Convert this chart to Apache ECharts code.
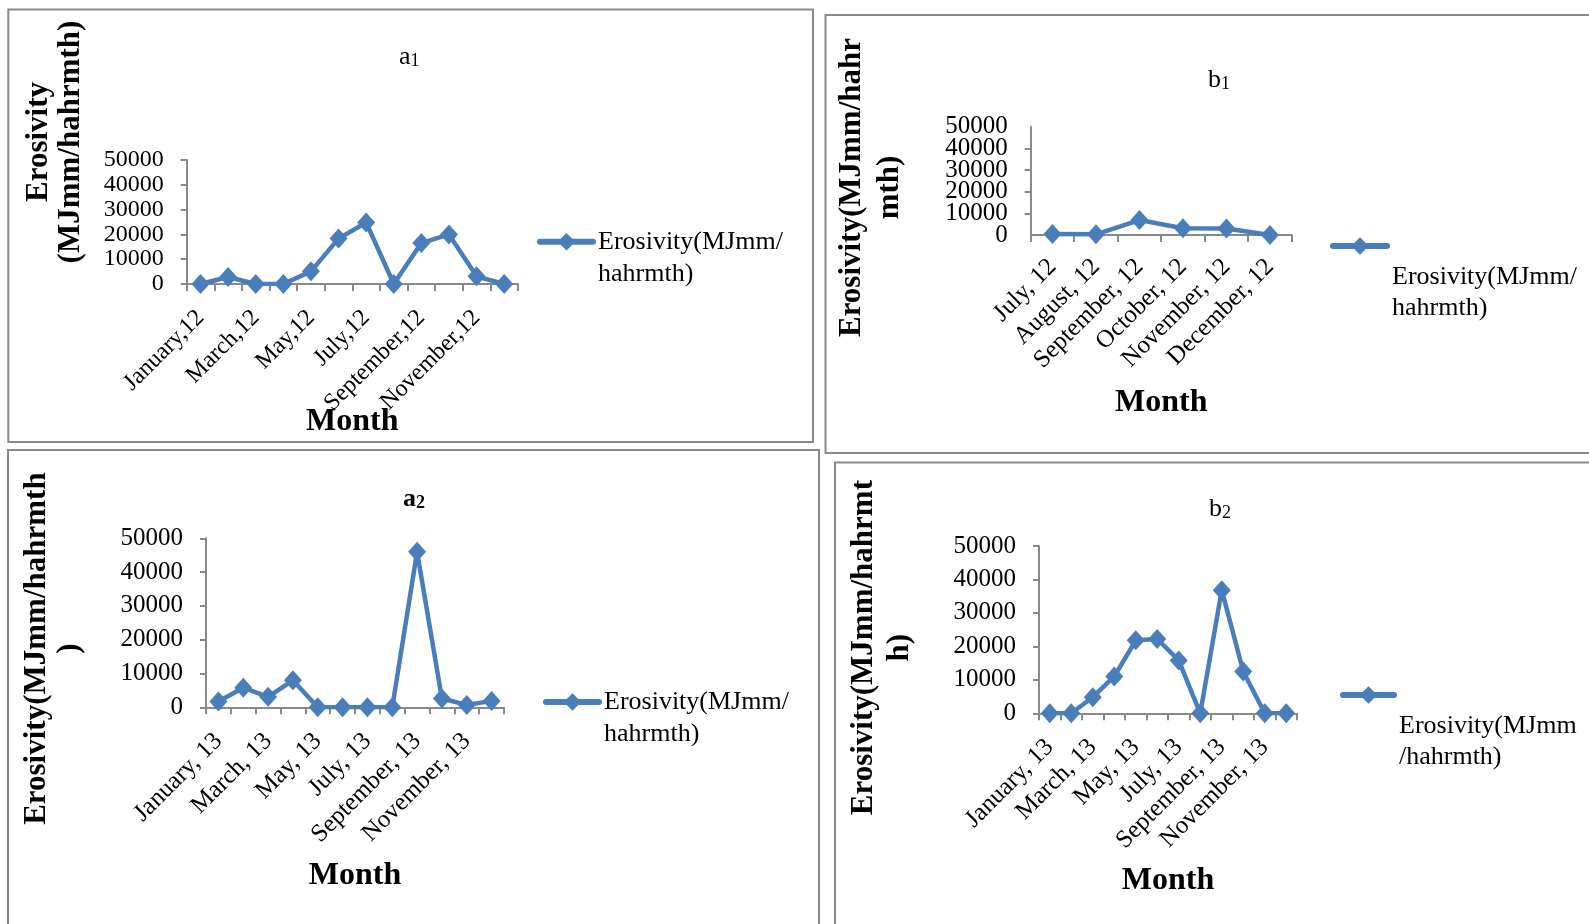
<!DOCTYPE html>
<html>
<head>
<meta charset="utf-8">
<script src="https://cdn.jsdelivr.net/npm/echarts@6/dist/echarts.min.js"></script>
<style>
html,body{margin:0;padding:0;background:#fff;}
#c{width:1589px;height:924px;}
</style>
</head>
<body>
<div id="c"></div>
<script>
// ---------- data ----------
const a1Categories = ['January,12','February,12','March,12','April,12','May,12','June,12','July,12','August,12','September,12','October,12','November,12','December,12'];
const a1Values = [0, 2800, 0, 0, 5100, 18300, 24800, 0, 16500, 20000, 3100, 0];

const b1Categories = ['July, 12','August, 12','September, 12','October, 12','November, 12','December, 12'];
const b1Values = [500, 300, 6900, 3100, 3000, 0];

const a2Categories = ['January, 13','February, 13','March, 13','April, 13','May, 13','June, 13','July, 13','August, 13','September, 13','October, 13','November, 13','December, 13'];
const a2Values = [1700, 5800, 3100, 8000, 0, 0, 0, 0, 46000, 2600, 700, 1900];

const b2Categories = ['January, 13','February, 13','March, 13','April, 13','May, 13','June, 13','July, 13','August, 13','September, 13','October, 13','November, 13','December, 13'];
const b2Values = [0, 0, 4800, 11000, 21800, 22200, 15800, 0, 36800, 12500, 0, 0];

const yTicks = [0, 10000, 20000, 30000, 40000, 50000];
const seriesName = 'Erosivity(MJmm/hahrmth)';
const xName = 'Month';

// ---------- style ----------
const FONT = 'Liberation Serif';
const BLUE = '#4A7EBB';
const AXIS = '#898989';
const Y_MIN = yTicks[0], Y_MAX = yTicks[yTicks.length - 1], Y_STEP = yTicks[1] - yTicks[0];

const chart = echarts.init(document.getElementById('c'), null, {renderer: 'canvas'});

const panels = [
  {cats: a1Categories, vals: a1Values, grid: {left: 186.7, top: 160, width: 331.3, height: 124}, labelInterval: 1, fs: 24, nameGap: 122, margin: 30, split: false},
  {cats: b1Categories, vals: b1Values, grid: {left: 1030.7, top: 126.7, width: 261, height: 108.3}, labelInterval: 0, fs: 25, nameGap: 152, margin: 28, split: true},
  {cats: a2Categories, vals: a2Values, grid: {left: 206, top: 538.3, width: 298, height: 169}, labelInterval: 1, fs: 25, nameGap: 152, margin: 30, split: false},
  {cats: b2Categories, vals: b2Values, grid: {left: 1039, top: 546, width: 258, height: 167.3}, labelInterval: 1, fs: 25, nameGap: 151, margin: 30, split: false}
];

const grids = [], xAxes = [], yAxes = [], series = [], extraY = [];
panels.forEach((p, i) => {
  grids.push(Object.assign({containLabel: false}, p.grid));
  xAxes.push({
    type: 'category', gridIndex: i, data: p.cats, boundaryGap: true,
    axisLine: {show: true, lineStyle: {color: AXIS, width: 2}},
    axisTick: {show: true, interval: 0, length: 7, lineStyle: {color: AXIS, width: 2}},
    axisLabel: {interval: p.labelInterval, rotate: 45, margin: p.margin, fontSize: p.fs, fontFamily: FONT, color: '#000', hideOverlap: false},
    splitLine: {show: false},
    name: xName, nameLocation: 'middle', nameGap: p.nameGap, nameMoveOverlap: false,
    nameTextStyle: {fontSize: 32, fontWeight: 'bold', fontFamily: FONT, color: '#000'}
  });
  const labelBase = {margin: 23, fontSize: p.fs, fontFamily: FONT, color: '#000', hideOverlap: false};
  yAxes.push({
    type: 'value', gridIndex: i, position: 'left', min: Y_MIN, max: Y_MAX, interval: Y_STEP,
    axisLine: {show: true, lineStyle: {color: AXIS, width: 2}},
    axisTick: {show: true, length: 6, lineStyle: {color: AXIS, width: 2}},
    axisLabel: Object.assign({}, labelBase, p.split
      ? {showMinLabel: false, showMaxLabel: false, formatter: (v) => String(v)}
      : {showMinLabel: true, showMaxLabel: true, formatter: (v) => String(v)}),
    splitLine: {show: false}
  });
  if (p.split) {
    // second label-only axis on the same grid for the end labels of a dense axis
    extraY.push({
      type: 'value', gridIndex: i, position: 'left', min: Y_MIN, max: Y_MAX, interval: Y_STEP,
      axisLine: {show: false}, axisTick: {show: false}, splitLine: {show: false},
      axisLabel: Object.assign({}, labelBase, {showMinLabel: true, showMaxLabel: true,
        formatter: (v) => (v === Y_MIN || v === Y_MAX) ? String(v) : ''})
    });
  }
  series.push({
    type: 'line', name: seriesName, xAxisIndex: i, yAxisIndex: i, data: p.vals,
    symbol: 'diamond', symbolSize: [18, 20], showAllSymbol: true,
    lineStyle: {color: BLUE, width: 4.5}, itemStyle: {color: BLUE},
    emphasis: {disabled: true}
  });
});

function legendAt(left, top, itemWidth, text, lh) {
  return {
    left: left, top: top, padding: 0, orient: 'vertical', selectedMode: false,
    itemWidth: itemWidth, itemHeight: 22,
    data: [seriesName],
    formatter: () => text,
    lineStyle: {width: 6, cap: 'round'},
    textStyle: {fontSize: 26, fontFamily: FONT, color: '#000', lineHeight: lh}
  };
}

const titleRich = (bold) => ({
  m: {fontSize: 26, fontFamily: FONT, fontWeight: bold ? 'bold' : 'normal', lineHeight: 40, verticalAlign: 'bottom', color: '#000'},
  s: {fontSize: 18, fontFamily: FONT, fontWeight: bold ? 'bold' : 'normal', lineHeight: 18, verticalAlign: 'bottom', color: '#000'}
});

function yName(text, x, y, lh) {
  return {
    type: 'text', x: x, y: y, rotation: Math.PI / 2, silent: true,
    style: {text: text, fill: '#000', font: 'bold 31px "' + FONT + '"', lineHeight: lh, align: 'center', verticalAlign: 'middle'}
  };
}
function frame(x, y, w, h) {
  return {type: 'rect', shape: {x: x, y: y, width: w, height: h}, silent: true, z: -1,
    style: {fill: 'none', stroke: '#8a8a8a', lineWidth: 2}};
}

chart.setOption({
  backgroundColor: '#fff',
  animation: false,
  title: [
    {text: '{m|a}{s|1}', left: 399, top: 30, padding: 0, textStyle: {rich: titleRich(false)}},
    {text: '{m|b}{s|1}', left: 1208, top: 53, padding: 0, textStyle: {rich: titleRich(false)}},
    {text: '{m|a}{s|2}', left: 403, top: 472, padding: 0, textStyle: {rich: titleRich(true)}},
    {text: '{m|b}{s|2}', left: 1209, top: 482, padding: 0, textStyle: {rich: titleRich(false)}}
  ],
  legend: [
    legendAt(537, 193.7, 53, '\nErosivity(MJmm/\nhahrmth)', 32),
    legendAt(1330, 168.5, 54, '\n\n\nErosivity(MJmm/\nhahrmth)', 31),
    legendAt(543, 654, 53, '\nErosivity(MJmm/\nhahrmth)', 32),
    legendAt(1340, 617.5, 51, '\n\n\nErosivity(MJmm\n/hahrmth)', 31)
  ],
  grid: grids,
  xAxis: xAxes,
  yAxis: yAxes.concat(extraY),
  series: series,
  graphic: [
    frame(8.3, 9.5, 804.7, 432.5),
    frame(825.5, 15, 800, 438),
    frame(8, 450, 811, 500),
    frame(835, 462.5, 800, 500),
    yName('Erosivity\n(MJmm/hahrmth)', 55, 142, 32),
    yName('Erosivity(MJmm/hahr\nmth)', 871, 187.5, 38),
    yName('Erosivity(MJmm/hahrmth\n)', 53, 648.6, 33),
    yName('Erosivity(MJmm/hahrmt\nh)', 882, 647.6, 36)
  ]
});
</script>
</body>
</html>
